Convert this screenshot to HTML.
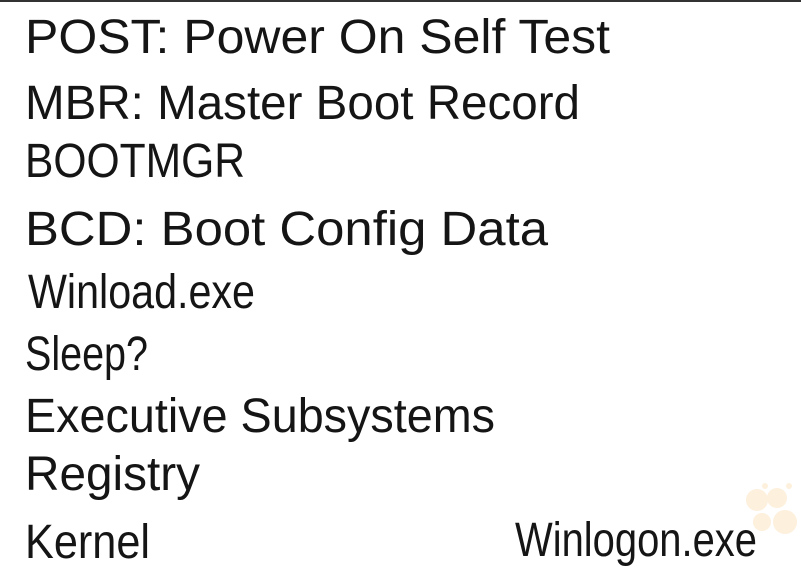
<!DOCTYPE html>
<html><head><meta charset="utf-8"><style>
html,body{margin:0;padding:0;background:#fff;width:801px;height:572px;overflow:hidden}
text{font-family:"Liberation Sans",sans-serif;font-size:48px;fill:#151515;font-weight:normal}
</style></head><body>
<svg width="801" height="572" xmlns="http://www.w3.org/2000/svg">
<rect x="0" y="0" width="801" height="2" fill="#333"/>
<g fill="#fdf0dc">
<circle cx="757" cy="500" r="11"/><circle cx="777" cy="498" r="10"/>
<circle cx="762" cy="522" r="9"/><circle cx="785" cy="522" r="12"/>
<circle cx="765" cy="486" r="3"/><circle cx="789" cy="486" r="3"/>
</g>
<text x="25" y="53" textLength="585" lengthAdjust="spacingAndGlyphs">POST: Power On Self Test</text>
<text x="25" y="119" textLength="555" lengthAdjust="spacingAndGlyphs">MBR: Master Boot Record</text>
<text x="25" y="177" textLength="220" lengthAdjust="spacingAndGlyphs">BOOTMGR</text>
<text x="25" y="245" textLength="523" lengthAdjust="spacingAndGlyphs">BCD: Boot Config Data</text>
<text x="28" y="308" textLength="227" lengthAdjust="spacingAndGlyphs">Winload.exe</text>
<text x="25" y="370" textLength="123" lengthAdjust="spacingAndGlyphs">Sleep?</text>
<text x="25" y="432" textLength="470" lengthAdjust="spacingAndGlyphs">Executive Subsystems</text>
<text x="25" y="490" textLength="175" lengthAdjust="spacingAndGlyphs">Registry</text>
<text x="25" y="558" textLength="125" lengthAdjust="spacingAndGlyphs">Kernel</text>
<text x="515" y="556" textLength="242" lengthAdjust="spacingAndGlyphs">Winlogon.exe</text>
</svg>
</body></html>
